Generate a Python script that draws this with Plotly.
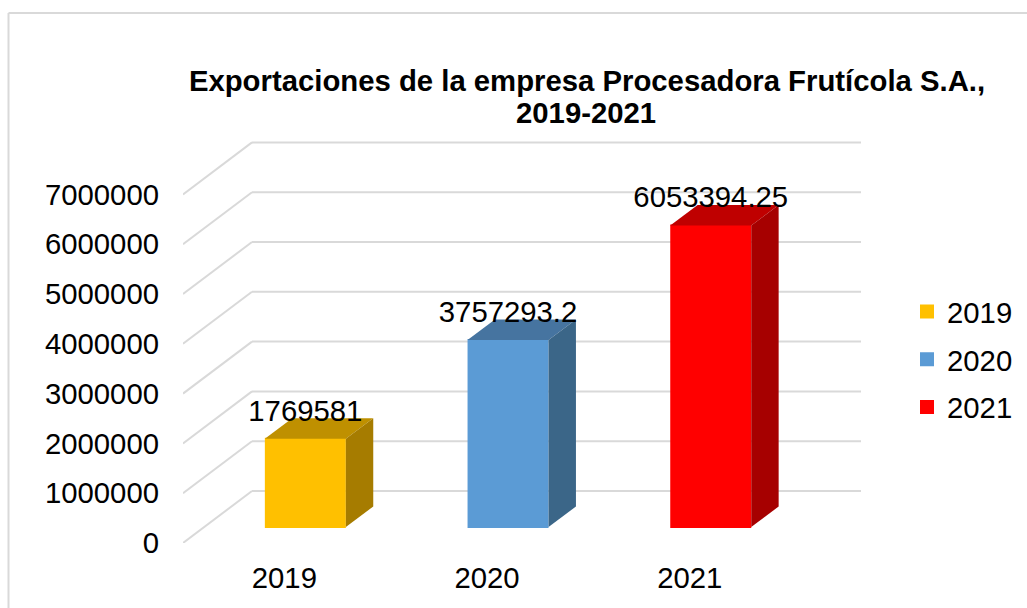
import plotly.graph_objects as go

# Data
years = ["2019", "2020", "2021"]
values = [1769581, 3757293.2, 6053394.25]
value_labels = ["1769581", "3757293.2", "6053394.25"]
y_ticks = [0, 1000000, 2000000, 3000000, 4000000, 5000000, 6000000, 7000000]
front_colors = ["#FFC000", "#5B9BD5", "#FF0000"]
top_colors = ["#BF9000", "#4674A0", "#BF0000"]
side_colors = ["#A67C00", "#3B6688", "#A60000"]

W, H = 1027, 608
L, R, T, B = 183, 861, 130, 543
PX_X = 202.7        # pixels per category
PX_Y = 49.8e-6      # pixels per value unit
FONT = "Liberation Sans, Arial, sans-serif"
FS = 29.3
GRID = "#D9D9D9"

# projection of the fake 3D depth, in axis units
wall_dx, wall_dy = 69 / PX_X, 52 / PX_Y       # full depth of the floor
bar_dx, bar_dy = 21 / PX_X, 16 / PX_Y         # front of bars from front of floor
deep_dx, deep_dy = 27.4 / PX_X, 20.5 / PX_Y   # depth of the bars
half_w = 40.5 / PX_X
label_dy = 25.5 / PX_Y

x_min = -0.5
x_range = [x_min, x_min + (R - L) / PX_X]
y_range = [0, (B - T) / PX_Y]
x_wall_end = x_range[1]

fig = go.Figure()

shapes = []
for t in y_ticks:
    shapes.append(dict(type="line", xref="x", yref="y", layer="below",
                       x0=x_min, y0=t, x1=x_min + wall_dx, y1=t + wall_dy,
                       line=dict(color=GRID, width=2)))
    shapes.append(dict(type="line", xref="x", yref="y", layer="below",
                       x0=x_min + wall_dx, y0=t + wall_dy, x1=x_wall_end, y1=t + wall_dy,
                       line=dict(color=GRID, width=2)))

for i, (yr, v) in enumerate(zip(years, values)):
    xl, xr = i + bar_dx - half_w, i + bar_dx + half_w
    y0, y1 = bar_dy, bar_dy + v
    fig.add_trace(go.Bar(
        x=[i + bar_dx], y=[v], base=[y0], width=[2 * half_w - 2 / PX_X],
        name=yr, legendgroup=yr,
        marker=dict(color=front_colors[i], line=dict(color=front_colors[i], width=2)),
        hoverinfo="skip",
    ))
    # top face
    fig.add_trace(go.Scatter(
        x=[xl, xr, xr + deep_dx, xl + deep_dx, xl],
        y=[y1, y1, y1 + deep_dy, y1 + deep_dy, y1],
        mode="lines", fill="toself", fillcolor=top_colors[i],
        line=dict(width=0, color=top_colors[i]), showlegend=False, hoverinfo="skip",
    ))
    # side face
    fig.add_trace(go.Scatter(
        x=[xr, xr + deep_dx, xr + deep_dx, xr, xr],
        y=[y0, y0 + deep_dy, y1 + deep_dy, y1, y0],
        mode="lines", fill="toself", fillcolor=side_colors[i],
        line=dict(width=0, color=side_colors[i]), showlegend=False, hoverinfo="skip",
    ))

# data labels
fig.add_trace(go.Scatter(
    x=[i + bar_dx for i in range(len(years))],
    y=[v + bar_dy + label_dy for v in values],
    text=value_labels, mode="text", textposition="middle center",
    textfont=dict(family=FONT, size=FS, color="#000000"),
    showlegend=False, hoverinfo="skip", cliponaxis=False,
))

# chart-area border (top and left, right edge)
shapes.append(dict(type="line", xref="paper", yref="paper",
                   x0=(8.5 - L) / (R - L), x1=(1027 - L) / (R - L),
                   y0=(H - 65 - 13) / (B - T), y1=(H - 65 - 13) / (B - T),
                   line=dict(color=GRID, width=2)))
shapes.append(dict(type="line", xref="paper", yref="paper",
                   x0=(8.5 - L) / (R - L), x1=(8.5 - L) / (R - L),
                   y0=-65 / (B - T), y1=(H - 65 - 13) / (B - T),
                   line=dict(color=GRID, width=2)))

fig.update_layout(
    width=W, height=H,
    margin=dict(l=L, r=W - R, t=T, b=H - B, pad=0, autoexpand=False),
    paper_bgcolor="#FFFFFF", plot_bgcolor="rgba(0,0,0,0)",
    font=dict(family=FONT, size=FS, color="#000000"),
    barmode="overlay",
    shapes=shapes,
    title=dict(text="<b>Exportaciones de la empresa Procesadora Frutícola S.A.,</b>",
               x=587 / W, xanchor="center", xref="container",
               y=1 - 81 / H, yanchor="middle", yref="container",
               font=dict(family=FONT, size=FS, color="#000000")),
    annotations=[dict(text="<b>2019-2021</b>", xref="paper", yref="paper",
                      x=(586 - L) / (R - L), y=(H - 65 - 112.5) / (B - T),
                      xanchor="center", yanchor="middle", showarrow=False,
                      font=dict(family=FONT, size=FS, color="#000000"))],
    xaxis=dict(range=x_range, tickmode="array", tickvals=list(range(len(years))),
               ticktext=years, showgrid=False, zeroline=False, showline=False,
               automargin=False,
               ticks="", ticklabelstandoff=15, tickfont=dict(family=FONT, size=FS)),
    yaxis=dict(range=y_range, tickmode="array", tickvals=y_ticks,
               ticktext=[str(t) for t in y_ticks], showgrid=False, zeroline=False,
               automargin=False,
               showline=False, ticks="", ticklabelstandoff=23,
               tickfont=dict(family=FONT, size=FS)),
    legend=dict(xref="container", yref="container", x=907 / W, xanchor="left",
                y=1 - 359.5 / H, yanchor="middle", traceorder="grouped",
                tracegroupgap=6.6, font=dict(family=FONT, size=FS),
                bgcolor="rgba(0,0,0,0)"),
)

fig.write_html("out.html", post_script="document.body.style.margin='0';",
               config={"displayModeBar": False})
